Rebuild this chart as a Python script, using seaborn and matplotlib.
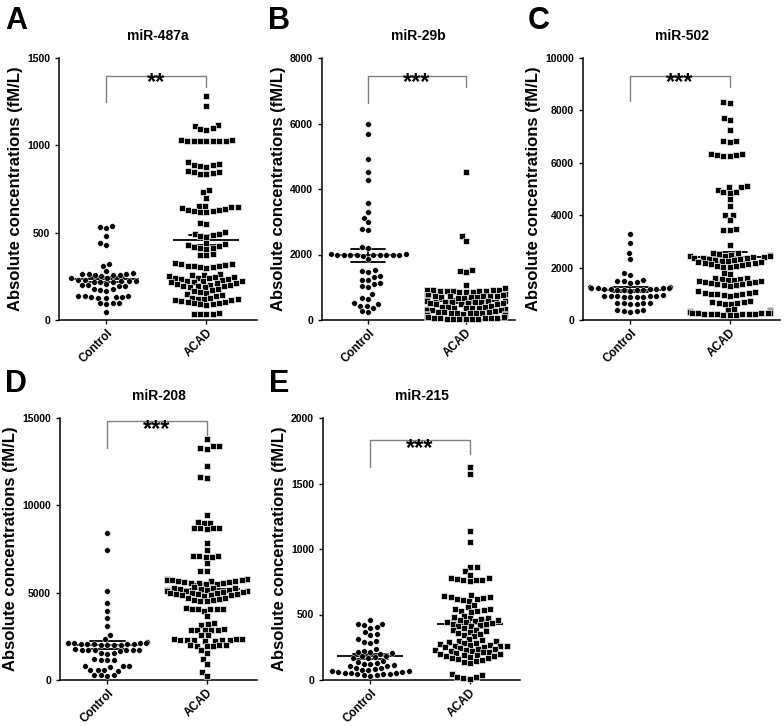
import matplotlib
matplotlib.use("Agg")
import matplotlib.pyplot as plt
import matplotlib.transforms as mtransforms
import pandas as pd
import seaborn as sns

# groups / panels
groups = ["Control", "ACAD"]
titles = ["miR-487a", "miR-29b", "miR-502", "miR-208", "miR-215"]
letters = ["A", "B", "C", "D", "E"]
stars = ["**", "***", "***", "***", "***"]
y_max = [1500, 8000, 10000, 15000, 2000]
y_step = [500, 2000, 2000, 5000, 500]

# values (fM/L)
mir487a_control = [540, 530, 525, 480, 440, 430, 320, 310, 280,
                   268, 266, 264, 262, 260, 258, 256, 254,
                   240, 238,
                   230, 228, 226, 224, 222, 220, 218, 216,
                   205, 200, 198, 195, 192,
                   180, 176, 172, 168,
                   140, 138, 136, 134, 132, 130, 128, 126,
                   100, 98, 95, 90, 45]
mir487a_acad = [1280, 1225,
                1115, 1110, 1100, 1095, 1090,
                1030, 1028, 1027, 1026, 1025, 1025, 1024, 1023, 1022,
                905, 895, 890, 885, 880, 875,
                855, 850, 845, 840, 838, 835,
                745, 730, 700,
                655, 652, 648, 645, 640, 636, 632, 628, 625, 622, 620, 618,
                555, 550,
                505, 495, 490, 485, 480, 475,
                440, 435, 430, 425, 420, 415, 410, 405,
                380, 375, 370,
                325, 320, 318, 315, 312, 310, 308, 305, 302, 300,
                265, 260, 255, 250, 248, 245, 242, 240, 238, 235, 232, 230,
                226, 224, 222, 218, 215, 212, 210, 206, 203, 200, 197, 195, 192, 190, 188,
                175, 170, 165, 160, 155, 150, 145, 140,
                128, 125, 122, 120, 118, 115, 112, 108, 105, 102, 98, 95, 92, 90, 88,
                38, 36, 35, 34, 33]

mir29b_control = [6000, 5680, 4910, 4520, 4280, 3570, 3310, 3110, 2980, 2780, 2740,
                  2220, 2200,
                  2010, 2005, 2000, 2000, 1995, 1990, 1990, 1985, 1980, 1975, 1970, 1965,
                  1850, 1520, 1500, 1480, 1330, 1320, 1230, 1210, 1130, 1110, 1030, 1000,
                  800, 670, 650, 520, 500, 440, 430, 360, 260, 240]
mir29b_acad = [4520, 2560, 2420, 1530, 1490, 1460, 1060, 990,
               930, 920, 910, 905, 900, 895, 890, 885, 880, 870, 860, 850,
               780, 770, 760, 750, 745, 740, 735, 730, 720, 710, 700, 690, 680, 670,
               600, 590, 580, 570, 560, 550, 545, 540, 530, 520, 510, 500, 490, 480,
               420, 410, 400, 390, 380, 375, 370, 360, 350, 340, 330, 320, 310, 300,
               260, 250, 240, 230, 225, 220, 215, 210, 200, 190, 180, 170, 160, 150,
               100, 90, 80, 70, 65, 60, 55, 50, 45, 40, 35, 30, 25, 20]

mir502_control = [3270, 2930, 2550, 2320, 1780, 1700,
                  1530, 1490, 1470, 1450, 1420,
                  1260, 1250, 1240, 1230, 1220, 1210, 1200, 1190, 1180, 1170, 1160, 1150,
                  1140, 1130, 1120,
                  940, 930, 920, 915, 910, 900, 895, 890, 880, 870,
                  660, 650, 640, 630, 620, 610,
                  390, 370, 350, 330, 310]
mir502_acad = [8310, 8290, 7720, 7650, 7240, 6830, 6820, 6800,
               6340, 6320, 6300, 6280, 6260, 6250,
               5100, 5080, 5060, 4960, 4900, 4880, 4850, 4600, 4340,
               4010, 3990, 3820, 3460, 3450, 3440, 2870,
               2560, 2540, 2520, 2500, 2480, 2460, 2450, 2440, 2420, 2400, 2380, 2360,
               2350, 2340, 2320, 2300,
               2280, 2260, 2240, 2220, 2200, 2180, 2160, 2140, 2120, 2100, 2080, 2060,
               2040, 2020,
               1780, 1760, 1620, 1600, 1580,
               1560, 1540, 1520, 1500, 1480, 1460, 1440, 1420, 1400, 1380, 1360, 1340,
               1320, 1300,
               1090, 1060, 1040, 1020, 1000, 990, 980, 960, 940, 920,
               720, 700, 680, 660, 640, 620, 600,
               420, 400, 380, 360, 340, 320, 300, 290, 280, 270, 260, 255, 250, 245,
               240, 235, 230, 220, 210, 200, 190, 180]

mir208_control = [8400, 7450, 5100, 4430, 3950, 3530, 3110, 2580, 2330,
                  2150, 2130, 2110, 2100, 2090, 2080, 2070, 2060, 2050, 2040, 2030, 2020,
                  2010, 2000,
                  1750, 1740, 1730, 1720, 1710, 1700, 1690, 1680,
                  1560, 1530, 1500,
                  1180, 1160, 1140, 1120,
                  820, 800, 780, 770,
                  600, 580, 560, 540,
                  310, 290, 260, 240]
mir208_acad = [13800, 13420, 13380, 13300, 13250, 12230, 11620, 11580,
               9420, 9060, 9000, 8980, 8720, 8700, 8690, 8680, 8670,
               7870, 7450, 7120, 7100, 7080, 7060, 7040, 6700, 6260, 6240,
               5780, 5770, 5760, 5740, 5720, 5700, 5680, 5660, 5640, 5620, 5600, 5580,
               5560, 5540, 5520, 5500,
               5300, 5280, 5260, 5240, 5220, 5200, 5180, 5160, 5140, 5120, 5100, 5080,
               5060, 5040,
               5000, 4980, 4960, 4940, 4920, 4900, 4880, 4860, 4840, 4820,
               4720, 4680, 4640, 4600, 4560, 4520, 4500,
               4100, 4090, 4080, 4070, 4060, 4050,
               3960, 3640, 3250, 3200, 3150, 2920,
               2880, 2870, 2860, 2850, 2840,
               2600, 2560,
               2340, 2330, 2320, 2310, 2300, 2290, 2280, 2270, 2260, 2250,
               2020, 2000, 1980, 1960, 1940, 1920,
               1720, 1540, 1200, 920, 480, 230]

mir215_control = [460, 430, 425, 420, 405, 400,
                  370, 350, 340, 310,
                  300, 290, 280,
                  235, 225, 215, 210, 205, 200,
                  185, 180, 175, 170, 165,
                  145, 140, 130, 125, 120, 115, 110, 105,
                  95, 90, 85, 80, 75, 70, 65, 60, 58, 55, 52, 50, 48, 45, 42, 40, 35, 30]
mir215_acad = [1625, 1575, 1135, 1050, 865, 860, 835, 805,
               780, 775, 770, 765, 762, 760, 755,
               650, 640, 635, 630, 625, 620, 615, 610, 605,
               575, 560, 545, 540, 535, 530, 525, 520,
               490, 480, 475, 470, 465, 460, 455, 450, 445, 440, 435, 430, 425, 420,
               415, 410,
               395, 385, 380, 375, 370, 360, 350, 340, 335,
               310, 305, 300, 295, 290,
               285, 280, 275, 270, 265, 262, 260, 258, 255, 250, 245, 240, 235, 230,
               228, 225, 220, 215, 210, 205, 200, 195, 190, 188,
               185, 180, 178, 170, 165, 160, 150, 145, 140, 130,
               45, 35, 25, 20, 15, 10]

control_sets = [mir487a_control, mir29b_control, mir502_control, mir208_control, mir215_control]
acad_sets = [mir487a_acad, mir29b_acad, mir502_acad, mir208_acad, mir215_acad]

sns.set_style("ticks", {"axes.edgecolor": "black", "text.color": "black",
                        "xtick.color": "black", "ytick.color": "black",
                        "axes.labelcolor": "black"})
plt.rcParams["font.family"] = ["Liberation Sans", "DejaVu Sans"]
plt.rcParams["font.weight"] = "bold"
plt.rcParams["axes.labelweight"] = "bold"
plt.rcParams["axes.titleweight"] = "bold"
plt.rcParams["axes.linewidth"] = 1.1

W, H = 784, 727
fig = plt.figure(figsize=(W / 100, H / 100), dpi=100)

# axes boxes in pixels: left, top, right, bottom
boxes = [(59, 58, 257, 320), (322, 58, 515, 320), (583, 58, 780, 320),
         (60, 418, 257, 680), (323, 418, 520, 680)]
# bracket: top, left leg end, right leg end, stars (axes fraction)
brackets = [(0.932, 0.831, 0.889, 0.905), (0.932, 0.830, 0.889, 0.905),
            (0.932, 0.834, 0.889, 0.905), (0.990, 0.885, 0.932, 0.957),
            (0.917, 0.813, 0.864, 0.884)]
letter_pos = [(5, 29), (268, 29), (528, 29), (5, 392), (269, 392)]

for i in range(5):
    ctrl, acad = control_sets[i], acad_sets[i]
    df = pd.DataFrame({"group": ["Control"] * len(ctrl) + ["ACAD"] * len(acad),
                       "value": ctrl + acad})
    l, t, r, b = boxes[i]
    ax = fig.add_axes([l / W, 1 - b / H, (r - l) / W, (b - t) / H])

    sns.swarmplot(data=df[df.group == "Control"], x="group", y="value", order=groups,
                  marker="o", color="black", size=4.1, edgecolor="white", linewidth=0.35,
                  warn_thresh=1, ax=ax)
    sns.swarmplot(data=df[df.group == "ACAD"], x="group", y="value", order=groups,
                  marker="s", color="black", size=3.9, edgecolor="white", linewidth=0.45,
                  warn_thresh=1, ax=ax)
    sns.pointplot(data=df, x="group", y="value", order=groups, errorbar="se",
                  capsize=0.35, color="black", marker="_", markersize=47,
                  markeredgewidth=1.3, linestyle="none", err_kws={"linewidth": 1.3}, ax=ax)
    for coll in ax.collections:
        coll.set_clip_on(False)

    ax.set_xlim(-0.475, 1.505)
    ax.set_ylim(0, y_max[i])
    ax.set_yticks(range(0, y_max[i] + 1, y_step[i]))
    ax.tick_params(axis="y", labelsize=7.5, length=3, width=1)
    ax.tick_params(axis="x", labelsize=8.5, length=3, width=1, pad=2)
    for lab in ax.get_xticklabels():
        lab.set_rotation(45)
        lab.set_ha("right")
        lab.set_va("top")
        lab.set_rotation_mode("anchor")
    ax.set_xlabel("")
    ax.set_ylabel("Absolute concentrations (fM/L)", fontsize=12, labelpad=3)
    ax.set_title(titles[i], fontsize=10, pad=13)
    sns.despine(ax=ax)

    trans = mtransforms.blended_transform_factory(ax.transData, ax.transAxes)
    top, lleg, rleg, sy = brackets[i]
    x0, x1 = groups.index("Control"), groups.index("ACAD")
    ax.plot([x0, x0, x1, x1], [lleg, top, top, rleg], transform=trans,
            color="#808080", lw=1, clip_on=False)
    ax.text((x0 + x1) / 2, sy, stars[i], transform=trans, ha="center", va="center",
            fontsize=17)

    lx, ly = letter_pos[i]
    fig.text(lx / W, 1 - ly / H, letters[i], fontsize=22, fontweight="bold",
             ha="left", va="baseline")

fig.savefig("out.png", dpi=100)
